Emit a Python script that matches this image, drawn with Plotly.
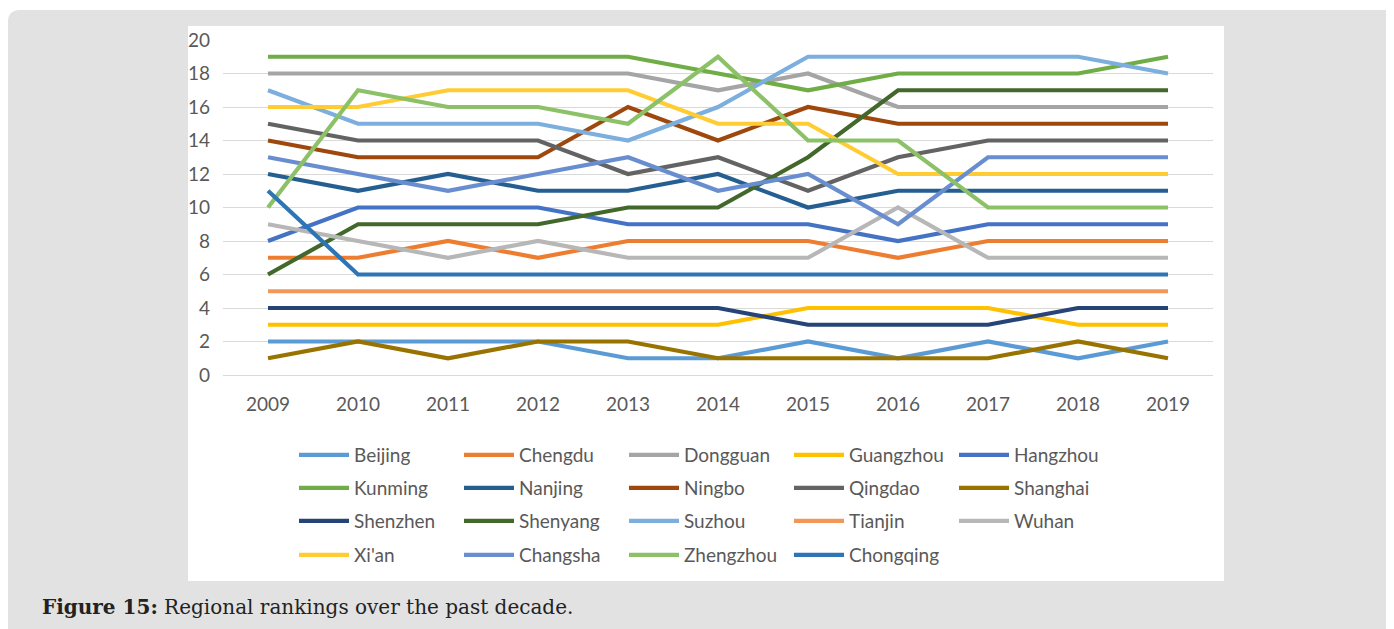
import plotly.graph_objects as go

years = ["2009", "2010", "2011", "2012", "2013", "2014", "2015", "2016", "2017", "2018", "2019"]

beijing   = [2, 2, 2, 2, 1, 1, 2, 1, 2, 1, 2]
chengdu   = [7, 7, 8, 7, 8, 8, 8, 7, 8, 8, 8]
dongguan  = [18, 18, 18, 18, 18, 17, 18, 16, 16, 16, 16]
guangzhou = [3, 3, 3, 3, 3, 3, 4, 4, 4, 3, 3]
hangzhou  = [8, 10, 10, 10, 9, 9, 9, 8, 9, 9, 9]
kunming   = [19, 19, 19, 19, 19, 18, 17, 18, 18, 18, 19]
nanjing   = [12, 11, 12, 11, 11, 12, 10, 11, 11, 11, 11]
ningbo    = [14, 13, 13, 13, 16, 14, 16, 15, 15, 15, 15]
qingdao   = [15, 14, 14, 14, 12, 13, 11, 13, 14, 14, 14]
shanghai  = [1, 2, 1, 2, 2, 1, 1, 1, 1, 2, 1]
shenzhen  = [4, 4, 4, 4, 4, 4, 3, 3, 3, 4, 4]
shenyang  = [6, 9, 9, 9, 10, 10, 13, 17, 17, 17, 17]
suzhou    = [17, 15, 15, 15, 14, 16, 19, 19, 19, 19, 18]
tianjin   = [5, 5, 5, 5, 5, 5, 5, 5, 5, 5, 5]
wuhan     = [9, 8, 7, 8, 7, 7, 7, 10, 7, 7, 7]
xian      = [16, 16, 17, 17, 17, 15, 15, 12, 12, 12, 12]
changsha  = [13, 12, 11, 12, 13, 11, 12, 9, 13, 13, 13]
zhengzhou = [10, 17, 16, 16, 15, 19, 14, 14, 10, 10, 10]
chongqing = [11, 6, 6, 6, 6, 6, 6, 6, 6, 6, 6]

city_names = ["Beijing", "Chengdu", "Dongguan", "Guangzhou", "Hangzhou",
              "Kunming", "Nanjing", "Ningbo", "Qingdao", "Shanghai",
              "Shenzhen", "Shenyang", "Suzhou", "Tianjin", "Wuhan",
              "Xi'an", "Changsha", "Zhengzhou", "Chongqing"]
city_values = [beijing, chengdu, dongguan, guangzhou, hangzhou,
               kunming, nanjing, ningbo, qingdao, shanghai,
               shenzhen, shenyang, suzhou, tianjin, wuhan,
               xian, changsha, zhengzhou, chongqing]
city_colors = ["#5B9BD5", "#ED7D31", "#A5A5A5", "#FFC000", "#4472C4",
               "#70AD47", "#255E91", "#9E480E", "#636363", "#997300",
               "#264478", "#43682B", "#7CAFDD", "#F1975A", "#B7B7B7",
               "#FFCD33", "#698ED0", "#8CC168", "#2E75B6"]

W, H = 1394, 629
OFF = 8  # page body margin: figure is drawn 8px right/down on screen
# plot area in screen pixels
SL, SR, ST, SB = 223, 1213, 40, 375
PL, PR, PT, PB = SL - OFF, SR - OFF, ST - OFF, SB - OFF


def px(x):
    """screen x pixel -> paper x"""
    return (x - OFF - PL) / (PR - PL)


def py(y):
    """screen y pixel -> paper y"""
    return (PB - (y - OFF)) / (PB - PT)


FONT = "Lato"
TXT = "#595959"

fig = go.Figure()
legend_ids = ["legend", "legend2", "legend3", "legend4"]
for i, (name, vals, col) in enumerate(zip(city_names, city_values, city_colors)):
    fig.add_trace(go.Scatter(
        x=years, y=vals, name=name, mode="lines",
        line=dict(color=col, width=4.2),
        legend=legend_ids[i // 5],
    ))

row_y = [455, 488, 521, 555]
legend_common = dict(orientation="h", xanchor="left", yanchor="middle",
                     x=px(294), entrywidth=100, itemwidth=50,
                     font=dict(family=FONT, size=19, color=TXT),
                     bgcolor="rgba(0,0,0,0)", tracegroupgap=0)
layout_legends = {}
for k, lid in enumerate(legend_ids):
    layout_legends[lid] = dict(legend_common, y=py(row_y[k]))

# background panel (rounded top-left / top-right corners) and white chart area
x0, x1, y0, y1, r = 8, 1404, 10, 640, 12
panel_path = (f"M {px(x0)},{py(y1)} L {px(x0)},{py(y0 + r)} "
              f"Q {px(x0)},{py(y0)} {px(x0 + r)},{py(y0)} "
              f"L {px(x1 - r)},{py(y0)} Q {px(x1)},{py(y0)} {px(x1)},{py(y0 + r)} "
              f"L {px(x1)},{py(y1)} Z")
shapes = [
    dict(type="path", xref="paper", yref="paper", path=panel_path,
         fillcolor="#E2E2E2", line=dict(width=0), layer="below"),
    dict(type="rect", xref="paper", yref="paper",
         x0=px(188), x1=px(1224), y0=py(581), y1=py(26),
         fillcolor="#FFFFFF", line=dict(width=0), layer="below"),
]

fig.update_layout(
    width=W, height=H,
    margin=dict(l=PL, r=W - PR, t=PT, b=H - PB, autoexpand=False),
    paper_bgcolor="#FFFFFF",
    plot_bgcolor="rgba(0,0,0,0)",
    shapes=shapes,
    showlegend=True,
    **layout_legends,
    xaxis=dict(type="category", range=[-0.5, len(years) - 0.5],
               showgrid=False, zeroline=False,
               showline=False, ticks="", ticklabelstandoff=16,
               tickfont=dict(family=FONT, size=19, color=TXT)),
    yaxis=dict(range=[0, 20], dtick=2, showgrid=True, gridcolor="#D9D9D9",
               gridwidth=1, zeroline=True, zerolinecolor="#D9D9D9",
               zerolinewidth=1, showline=False, ticks="", ticklabelstandoff=12,
               tickfont=dict(family=FONT, size=19, color=TXT)),
    annotations=[
        dict(xref="paper", yref="paper", x=px(40), y=py(607),
             xanchor="left", yanchor="middle", showarrow=False,
             text="<b>Figure 15:</b> Regional rankings over the past decade.",
             font=dict(family="DejaVu Serif", size=20, color="#222222")),
    ],
)

fig.write_html("out.html")
